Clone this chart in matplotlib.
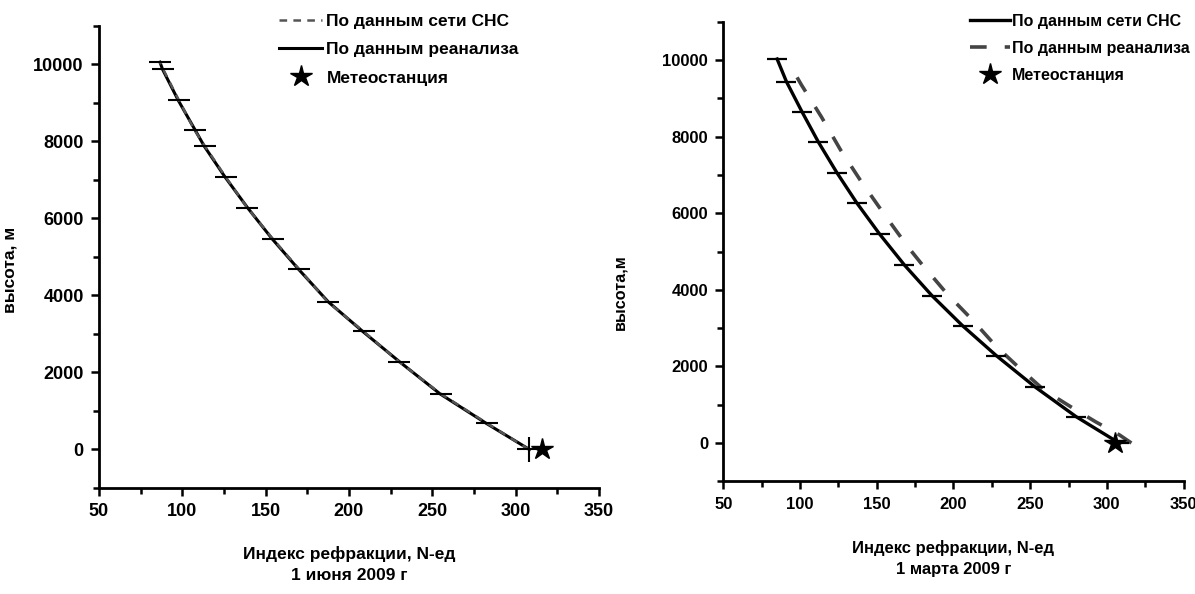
import matplotlib
matplotlib.use('Agg')
import matplotlib.pyplot as plt
from matplotlib.ticker import MultipleLocator

plt.rcParams['font.family'] = ['Liberation Sans', 'DejaVu Sans']
plt.rcParams['font.weight'] = 'bold'
plt.rcParams['lines.scale_dashes'] = False

# левый график - 1 июня 2009 г
h_june = [0, 681, 1443, 2280, 3065, 3834, 4689, 5466, 6277, 7080, 7876, 8290, 9067, 9870, 10060]
n_june_rean = [308.3, 282.3, 254.7, 230.3, 208.3, 187.6, 169.6, 154.0, 139.2, 125.6, 113.2, 107.8, 97.6, 88.2, 86.6]
n_june_chs = [308.0, 282.8, 255.2, 230.0, 208.8, 187.2, 170.0, 154.4, 139.0, 126.0, 113.6, 107.4, 98.0, 88.6, 86.6]
n_june_station = 315.7

# правый график - 1 марта 2009 г
h_march_chs = [0, 687, 1470, 2279, 3063, 3846, 4648, 5457, 6266, 7057, 7859, 8650, 9433, 10026]
n_march_chs = [308.0, 280.0, 253.0, 228.0, 205.9, 186.0, 168.0, 151.8, 137.0, 124.0, 111.9, 101.2, 91.1, 85.0]
h_march_rean = [0, 209, 556, 948, 1384, 1924, 2533, 3211, 3909, 4692, 5125, 5997, 6822, 7650, 8520, 9347, 9740]
n_march_rean = [316.0, 308.3, 292.6, 276.4, 259.0, 243.9, 227.6, 212.4, 195.5, 178.9, 170.2, 154.4, 139.9, 126.4, 113.8, 100.9, 95.2]
n_march_station = 305.5

labels_legend = ['По данным сети СНС', 'По данным реанализа', 'Метеостанция']
xlabel = 'Индекс рефракции, N-ед'

fig = plt.figure(figsize=(11.95, 5.94), dpi=100)
ax1 = fig.add_axes([0.0828, 0.1785, 0.4184, 0.7778])
ax2 = fig.add_axes([0.6054, 0.1897, 0.3850, 0.7737])


def style_axes(ax, fs):
    ax.set_xlim(50, 350)
    ax.set_ylim(-1000, 11000)
    ax.xaxis.set_major_locator(MultipleLocator(50))
    ax.xaxis.set_minor_locator(MultipleLocator(25))
    ax.yaxis.set_major_locator(MultipleLocator(2000))
    ax.yaxis.set_minor_locator(MultipleLocator(1000))
    for s in ['top', 'right']:
        ax.spines[s].set_visible(False)
    for s in ['left', 'bottom']:
        ax.spines[s].set_linewidth(2)
    ax.tick_params(which='major', direction='out', length=6, width=1.8, labelsize=fs, pad=5)
    ax.tick_params(which='minor', direction='out', length=4, width=1.8)


# левый график
l1, = ax1.plot(n_june_rean, h_june, color='black', lw=2.2, label=labels_legend[1])
l2, = ax1.plot(n_june_chs, h_june, color='#555555', lw=1.8, dashes=(5.5, 4.5), label=labels_legend[0])
ax1.plot(n_june_chs[1:], h_june[1:], ls='none', marker='_', ms=16, mew=1.5, color='black')
ax1.plot(n_june_chs[:1], h_june[:1], ls='none', marker='+', ms=18, mew=1.5, color='black')
l3, = ax1.plot([n_june_station], [h_june[0]], ls='none', marker='*', ms=16, color='black', label=labels_legend[2])
style_axes(ax1, 13)
ax1.set_ylabel('высота, м', fontsize=12.5, fontweight='bold')
ax1.yaxis.set_label_coords(-0.162, 0.472)
ax1.set_xlabel(xlabel + '\n1 июня 2009 г', fontsize=12.5, fontweight='bold', linespacing=1.5)
ax1.xaxis.set_label_coords(0.5, -0.125)
ax1.xaxis.label.set_va('top')
ax1.legend([l2, l1, l3], labels_legend, loc='upper left', bbox_to_anchor=(0.2335, 0.977),
           bbox_transform=fig.transFigure, frameon=False, fontsize=12.5, handlelength=2.5,
           handletextpad=0.23, labelspacing=0.76, borderpad=0, borderaxespad=0)

# правый график
r1, = ax2.plot(n_march_chs, h_march_chs, color='black', lw=2.4, label=labels_legend[0])
r2, = ax2.plot(n_march_rean, h_march_rean, color='#444444', lw=2.6, dashes=(12, 13), label=labels_legend[1])
ax2.plot(n_march_chs, h_march_chs, ls='none', marker='_', ms=15, mew=1.6, color='black')
r3, = ax2.plot([n_march_station], [h_march_chs[0]], ls='none', marker='*', ms=16, color='black', label=labels_legend[2])
style_axes(ax2, 12)
ax2.set_ylabel('высота,м', fontsize=11.6, fontweight='bold')
ax2.yaxis.set_label_coords(-0.209, 0.412)
ax2.set_xlabel(xlabel + '\n1 марта 2009 г', fontsize=12, fontweight='bold', linespacing=1.55)
ax2.xaxis.set_label_coords(0.5, -0.127)
ax2.xaxis.label.set_va('top')
ax2.legend([r1, r2, r3], labels_legend, loc='upper left', bbox_to_anchor=(0.8117, 0.977),
           bbox_transform=fig.transFigure, frameon=False, fontsize=11.5, handlelength=2.5,
           handletextpad=0.13, labelspacing=0.75, borderpad=0, borderaxespad=0)

fig.savefig('out.png', dpi=100)
